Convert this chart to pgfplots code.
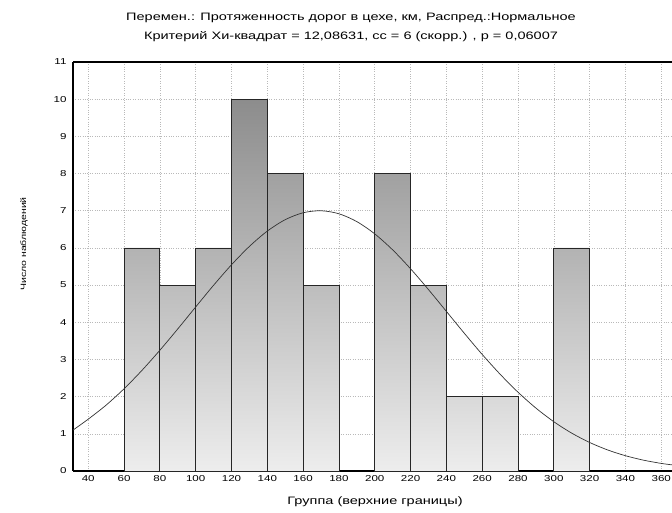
\documentclass[border=0pt]{standalone}
\usepackage{pgfplots}
\pgfplotsset{compat=1.18}
\usepackage{fontspec}
\setmainfont{Liberation Sans}[FakeStretch=1.35]
\begin{document}
\begin{tikzpicture}[x=1bp,y=1bp]
\path[use as bounding box, fill=white] (0,0) rectangle (672,513);
\begin{axis}[
  at={(73bp,42bp)}, anchor=south west,
  scale only axis, width=599bp, height=409bp,
  xmin=31.5, xmax=366, ymin=0, ymax=11,
  xtick={40,60,...,360}, ytick={0,...,11},
  grid=major, major grid style={gray!55, dotted, line width=0.6pt},
  axis x line*=bottom, axis y line*=left,
  axis line style={line width=1.3pt, -},
  major tick length=0pt,
  tick label style={font=\fontsize{8.6}{9}\selectfont},
  yticklabel style={xshift=-3bp},
  xticklabel style={yshift=-1bp},
  /pgf/number format/assume math mode=true,
  clip=false,
]
\draw[line width=1.3pt] (rel axis cs:0,1) -- (rel axis cs:1,1);
\addplot[ybar, bar shift=0pt, bar width=20, draw=black!85, line width=0.8pt, top color=black!45, bottom color=black!7] coordinates {(130,10)};
\addplot[ybar, bar shift=0pt, bar width=20, draw=black!85, line width=0.8pt, top color=black!37, bottom color=black!7] coordinates {(150,8) (210,8)};
\addplot[ybar, bar shift=0pt, bar width=20, draw=black!85, line width=0.8pt, top color=black!30, bottom color=black!7] coordinates {(70,6) (110,6) (310,6)};
\addplot[ybar, bar shift=0pt, bar width=20, draw=black!85, line width=0.8pt, top color=black!26, bottom color=black!7] coordinates {(90,5) (170,5) (230,5)};
\addplot[ybar, bar shift=0pt, bar width=20, draw=black!85, line width=0.8pt, top color=black!15, bottom color=black!7] coordinates {(250,2) (270,2)};
\addplot[smooth, black!80, line width=0.7pt] coordinates {
(31.5,1.10) (40,1.394) (50,1.772) (60,2.211) (70,2.706) (80,3.247) (90,3.821)
(100,4.411) (110,4.995) (120,5.546) (130,6.040) (140,6.452) (150,6.759)
(160,6.945) (170,6.999) (180,6.918) (190,6.707) (200,6.377) (210,5.947)
(220,5.439) (230,4.879) (240,4.293) (250,3.705) (260,3.135) (270,2.603)
(280,2.119) (290,1.692) (300,1.325) (310,1.018) (320,0.767) (330,0.567)
(340,0.411) (350,0.292) (360,0.204) (366,0.165)};
\end{axis}
\node[font=\fontsize{10.8}{12}\selectfont] at (351,495) {Перемен.: Протяженность дорог в цехе, км, Распред.:Нормальное};
\node[font=\fontsize{10.8}{12}\selectfont] at (351,476) {Критерий Хи-квадрат = 12,08631, сс = 6 (скорр.) , p = 0,06007};
\node[font=\fontsize{10.8}{12}\selectfont] at (375,11) {Группа (верхние границы)};
\node[font=\fontsize{7.8}{9}\selectfont, rotate=90] at (24,269) {Число наблюдений};
\end{tikzpicture}
\end{document}
